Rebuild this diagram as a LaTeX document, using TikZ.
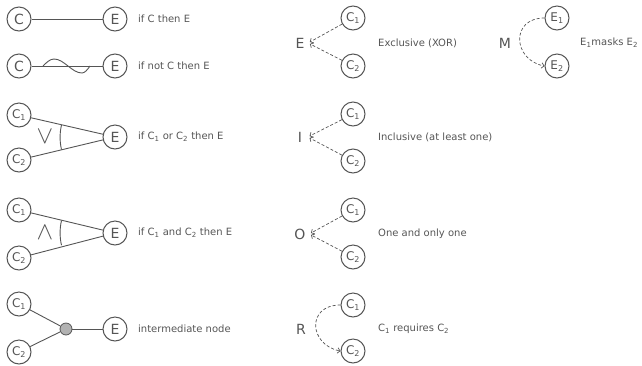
\documentclass[tikz,border=0pt]{standalone}
\usepackage{fontspec}
\setmainfont{DejaVu Sans}
\usetikzlibrary{arrows.meta,calc}
\definecolor{ink}{RGB}{85,85,85}
\tikzset{
  circ/.style={circle,draw=ink,line width=1pt,minimum size=24pt,inner sep=0pt,font=\fontsize{14}{14}\selectfont,text=ink},
  circs/.style={circ,font=\fontsize{12}{12}\selectfont},
  desc/.style={anchor=west,inner sep=0pt,text=ink,font=\fontsize{10}{12}\selectfont},
  letter/.style={inner sep=0.5pt,text=ink,font=\fontsize{14}{14}\selectfont},
  logic/.style={inner sep=0pt,text=ink,font=\fontsize{25}{25}\selectfont},
  conn/.style={draw=ink,line width=0.9pt},
  dconn/.style={draw=ink,line width=0.7pt,dash pattern=on 3pt off 2pt,shorten >=2pt,-{Straight Barb[length=2.5pt,width=5.5pt]}},
  dot/.style={circle,draw=ink,fill=ink!45,line width=0.8pt,minimum size=12pt,inner sep=0pt},
}
\newcommand{\sub}[1]{\textsubscript{#1}}
\begin{document}
\begin{tikzpicture}[x=1pt,y=-1pt]
\useasboundingbox (0,0) rectangle (642,365);
% row 1
\node[circ] (c1) at (19,19) {C};
\node[circ] (e1) at (115,19) {E};
\draw[conn] (c1) -- (e1);
\node[desc] (t1) at (138,19) {if C then E};
% row 2
\node[circ] (c2) at (19,66) {C};
\node[circ] (e2) at (115,66) {E};
\draw[conn] (c2) -- (e2);
\draw[conn] (43,66) sin (54,59) cos (68,66) sin (82,73) cos (90,66);
\node[desc] (t2) at (138,66) {if not C then E};
% row 3
\node[circs] (a1) at (19,115) {C\sub{1}};
\node[circs] (a2) at (19,160) {C\sub{2}};
\node[circ] (a3) at (115,137) {E};
\draw[conn] (a1) -- (a3);
\draw[conn] (a2) -- (a3);
\draw[conn] ($(a3.center)+(-53.5,-12)$) arc[start angle=193,end angle=167,radius=54.8];
\node[logic] (or) at (45,137) {$\vee$};
\node[desc] (t3) at (138,137) {if C\sub{1} or C\sub{2} then E};
% row 4
\node[circs] (b1) at (19,210) {C\sub{1}};
\node[circs] (b2) at (19,258) {C\sub{2}};
\node[circ] (b3) at (115,233) {E};
\draw[conn] (b1) -- (b3);
\draw[conn] (b2) -- (b3);
\draw[conn] ($(b3.center)+(-53.5,-12.5)$) arc[start angle=193,end angle=167,radius=54.9];
\node[logic] (and) at (45,233) {$\wedge$};
\node[desc] (t4) at (138,233) {if C\sub{1} and C\sub{2} then E};
% row 5
\node[circs] (d1) at (19,304) {C\sub{1}};
\node[circs] (d2) at (19,352) {C\sub{2}};
\node[dot] (dm) at (66,329) {};
\node[circ] (d3) at (115,329) {E};
\draw[conn] (d1) -- (dm);
\draw[conn] (d2) -- (dm);
\draw[conn] (dm) -- (d3);
\node[desc] (t5) at (138,329) {intermediate node};
% middle column
\node[letter] (xe) at (300,43) {E};
\node[circs] (x1) at (353,18) {C\sub{1}};
\node[circs] (x2) at (353,66) {C\sub{2}};
\coordinate (xp) at ($(xe.east)+(3,0)$);
\draw[dconn] (x1) -- (xp);
\draw[dconn] (x2) -- (xp);
\node[desc] (tx) at (378,43) {Exclusive (XOR)};
\node[letter] (ie) at (300,137) {I};
\node[circs] (i1) at (353,114) {C\sub{1}};
\node[circs] (i2) at (353,161) {C\sub{2}};
\coordinate (ip) at ($(ie.east)+(5,0)$);
\draw[dconn] (i1) -- (ip);
\draw[dconn] (i2) -- (ip);
\node[desc] (ti) at (378,137) {Inclusive (at least one)};
\node[letter] (oe) at (300,234) {O};
\node[circs] (o1) at (353,210) {C\sub{1}};
\node[circs] (o2) at (353,257) {C\sub{2}};
\coordinate (op) at ($(oe.east)+(3,0)$);
\draw[dconn] (o1) -- (op);
\draw[dconn] (o2) -- (op);
\node[desc] (to) at (378,234) {One and only one};
\node[letter] (re) at (301,329) {R};
\node[circs] (r1) at (353,305) {C\sub{1}};
\node[circs] (r2) at (353,351) {C\sub{2}};
\draw[dconn,shorten >=0pt] (r1.west) .. controls (306,305) and (309,345) .. (r2.west);
\node[desc] (tr) at (378,329) {C\sub{1} requires C\sub{2}};
% right column
\node[letter] (me) at (505,43) {M};
\node[circs] (m1) at (557,18) {E\sub{1}};
\node[circs] (m2) at (557,66) {E\sub{2}};
\draw[dconn,shorten >=0pt] (m1.west) .. controls (510,18) and (513,60) .. (m2.west);
\node[desc] (tm) at (580,43) {E\sub{1}masks E\sub{2}};
\end{tikzpicture}
\end{document}
